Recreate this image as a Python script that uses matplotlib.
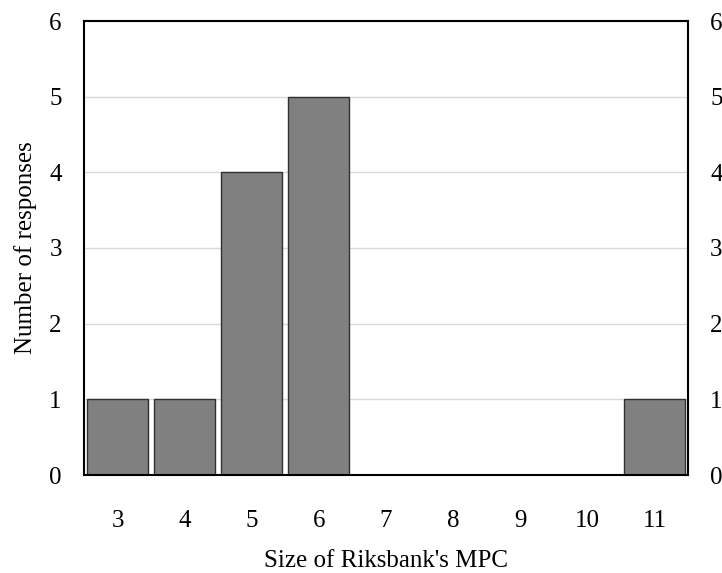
import matplotlib
matplotlib.use("Agg")
import matplotlib.pyplot as plt

sizes = [3, 4, 5, 6, 7, 8, 9, 10, 11]
responses = [1, 1, 4, 5, 0, 0, 0, 0, 1]

plt.rcParams['font.family'] = ['Liberation Serif', 'DejaVu Serif']

fig = plt.figure(figsize=(7.22, 5.73), dpi=100)
ax = fig.add_axes([84 / 722, 1 - 475 / 573, (688 - 84) / 722, (475 - 21) / 573])

pos = list(range(len(sizes)))
ax.bar(pos, responses, width=0.91, color='#808080', edgecolor='#303030',
       linewidth=1, zorder=3)

ax.set_xlim(-0.5, len(sizes) - 0.5)
ax.set_ylim(0, 6)
ax.set_xticks(pos)
ax.set_xticklabels([str(s) for s in sizes])
ax.set_yticks(range(7))
ax.yaxis.grid(True, color='#d9d9d9', linewidth=1, zorder=0)
ax.set_axisbelow(True)

ax.tick_params(axis='x', length=0, pad=25, labelsize=18)
ax.tick_params(axis='y', length=0, pad=16, labelsize=18,
               labelleft=True, labelright=True)

for s in ax.spines.values():
    s.set_color('black')
    s.set_linewidth(1.5)
    s.set_zorder(4)

ax.set_xlabel("Size of Riksbank's MPC", fontsize=18, labelpad=13)
ax.set_ylabel("Number of responses", fontsize=18, labelpad=9)

fig.savefig("out.png", dpi=100)
